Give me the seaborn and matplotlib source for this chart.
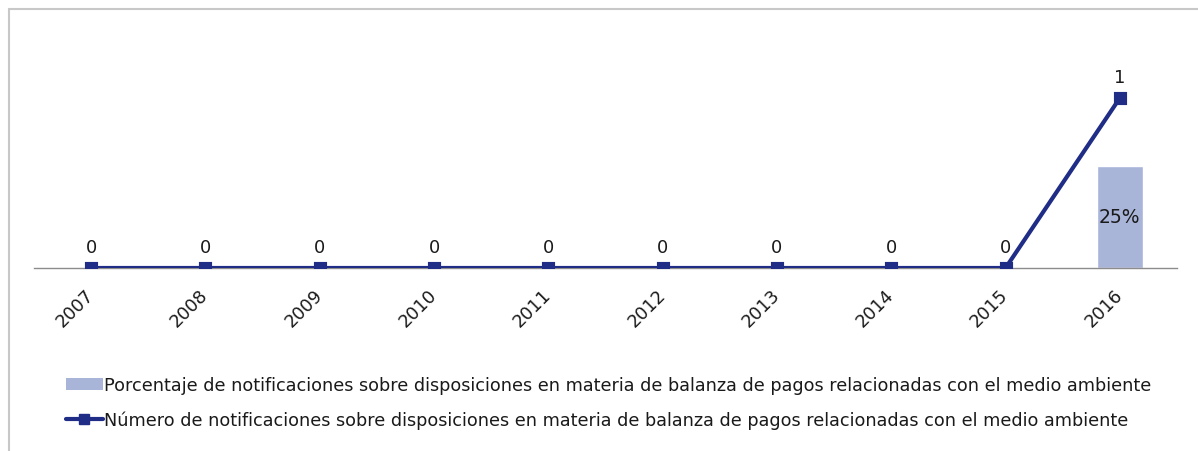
import matplotlib
matplotlib.use("Agg")
import matplotlib.pyplot as plt
import seaborn as sns
import pandas as pd
from matplotlib.lines import Line2D
from matplotlib.patches import Patch

years = ["2007", "2008", "2009", "2010", "2011", "2012", "2013", "2014", "2015", "2016"]
pct_values = [0, 0, 0, 0, 0, 0, 0, 0, 0, 0.25]
count_values = [0, 0, 0, 0, 0, 0, 0, 0, 0, 1]

bar_label = "Porcentaje de notificaciones sobre disposiciones en materia de balanza de pagos relacionadas con el medio ambiente"
line_label = "Número de notificaciones sobre disposiciones en materia de balanza de pagos relacionadas con el medio ambiente"

bar_color = "#A9B4D9"
line_color = "#1F2D86"
text_color = "#1a1a1a"
fs = 12.8

sns.set_style("white")
plt.rcParams['font.family'] = 'sans-serif'
plt.rcParams['font.sans-serif'] = ['DejaVu Sans']

df = pd.DataFrame({"year": years, "pct": pct_values, "count": count_values})

fig = plt.figure(figsize=(11.98, 4.52), dpi=100)
ax = fig.add_axes([34 / 1198, 183 / 452, (1177 - 34) / 1198, (387 - 183) / 452])

sns.barplot(data=df, x="year", y="pct", order=years, color=bar_color,
            width=0.4, saturation=1, ax=ax)
ax.set_ylim(0, 0.5)

ax2 = ax.twinx()
sns.pointplot(data=df, x="year", y="count", order=years, color=line_color,
              markers="s", markersize=7.5, linewidth=3, ax=ax2)
ax2.set_ylim(0, 1.2)

# data labels
for i, v in enumerate(pct_values):
    if v > 0:
        ax.text(i, v / 2, f"{v:.0%}", ha="center", va="center", fontsize=13.5, color=text_color)
for i, v in enumerate(count_values):
    ax2.annotate(str(v), (i, v), xytext=(0, 8.5), textcoords="offset points",
                 ha="center", va="bottom", fontsize=fs, color=text_color)

for a in (ax, ax2):
    for s in ["top", "right", "left"]:
        a.spines[s].set_visible(False)
    a.set_yticks([])
    a.set_ylabel("")
    a.set_xlabel("")
ax2.spines["bottom"].set_visible(False)
ax.spines["bottom"].set_color("#8c8c8c")
ax.spines["bottom"].set_linewidth(1)
ax.set_xlim(-0.5, len(years) - 0.5)

ax.set_xticks(range(len(years)))
ax.set_xticklabels(years, rotation=45, ha="right", va="center", rotation_mode="anchor",
                   fontsize=fs, color=text_color)
ax.tick_params(axis="x", which="major", length=0, pad=17)
ax.set_xticks([i - 0.5 for i in range(len(years) + 1)], minor=True)
ax.tick_params(axis="x", which="minor", length=5, color="#8c8c8c", width=1)

handles = [
    Patch(facecolor=bar_color, edgecolor="none"),
    Line2D([0], [0], color=line_color, lw=3, marker="s", markersize=7.5),
]
fig.legend(handles, [bar_label, line_label], loc="upper left",
           bbox_to_anchor=(50 / 1198, 1 - 361 / 452), frameon=False, fontsize=12.7,
           handlelength=2.1, handletextpad=0.05, labelspacing=0.95, labelcolor=text_color)

# outer chart frame (top and left edges visible)
fig.add_artist(Line2D([8.5 / 1198, 1.0], [1 - 10 / 452, 1 - 10 / 452], color="#c8c8c8", lw=1.5))
fig.add_artist(Line2D([8.5 / 1198, 8.5 / 1198], [0, 1 - 10 / 452], color="#c8c8c8", lw=1.5))

fig.savefig("out.png", dpi=100)
